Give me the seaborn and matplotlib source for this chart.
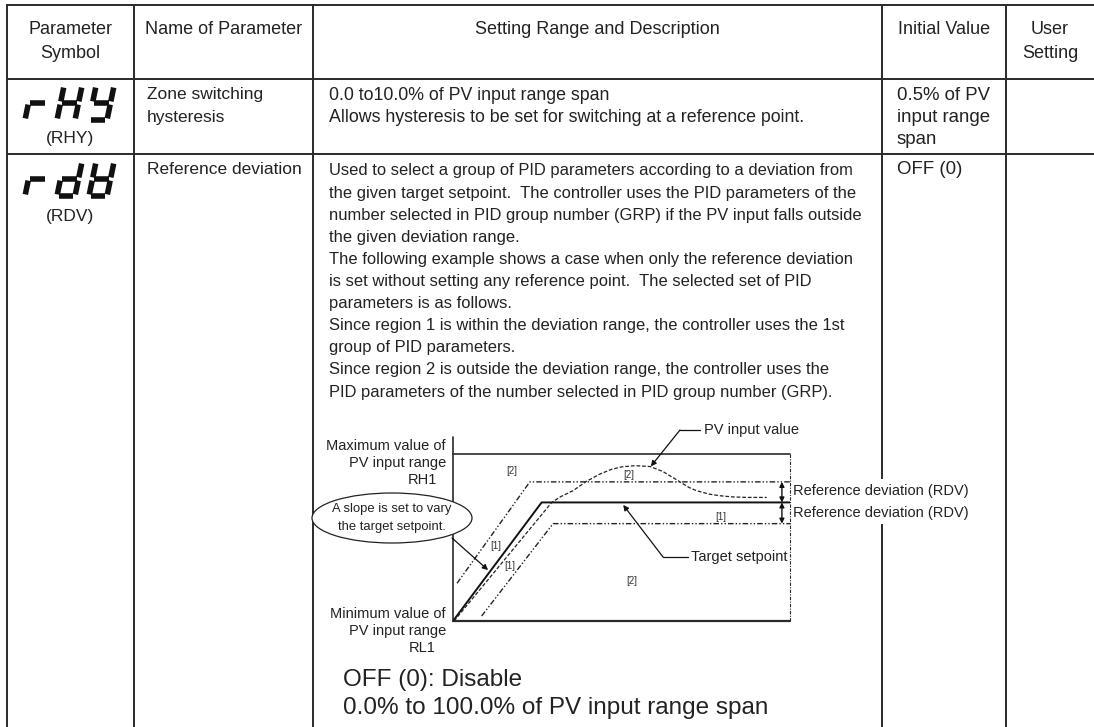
import matplotlib
matplotlib.use("Agg")
import matplotlib.pyplot as plt
import seaborn as sns
from matplotlib.patches import Ellipse, Rectangle

# ============================================================
# DATA
# ============================================================

header_texts = ["Parameter\nSymbol", "Name of Parameter", "Setting Range and Description",
                "Initial Value", "User\nSetting"]

symbols = ["rHY", "rdV"]
symbol_names = ["(RHY)", "(RDV)"]
param_names = [["Zone switching", "hysteresis"], ["Reference deviation"]]
initial_values = [["0.5% of PV", "input range", "span"], ["OFF (0)"]]

row1_desc = ["0.0 to10.0% of PV input range span",
             "Allows hysteresis to be set for switching at a reference point."]
row2_desc = [
    "Used to select a group of PID parameters according to a deviation from",
    "the given target setpoint.  The controller uses the PID parameters of the",
    "number selected in PID group number (GRP) if the PV input falls outside",
    "the given deviation range.",
    "The following example shows a case when only the reference deviation",
    "is set without setting any reference point.  The selected set of PID",
    "parameters is as follows.",
    "Since region 1 is within the deviation range, the controller uses the 1st",
    "group of PID parameters.",
    "Since region 2 is outside the deviation range, the controller uses the",
    "PID parameters of the number selected in PID group number (GRP).",
]
row2_range = ["OFF (0): Disable", "0.0% to 100.0% of PV input range span"]

# diagram series (time 0-100, PV range 0-100)
sp_time = [0, 26.3, 100]
sp_value = [0, 71, 71]
dev_hi_time = [1.2, 22.8, 100]
dev_hi_value = [22.6, 83.3, 83.3]
dev_lo_time = [8.5, 29.7, 100]
dev_lo_value = [3, 58.3, 58.3]
pv_time = [0.3, 29.3, 32, 35.6, 39.5, 43.6, 47, 50, 54, 58.5, 62.3, 66.8, 70, 72.3,
           76, 79.2, 83, 87.2, 93.1]
pv_value = [0, 71, 74.5, 78, 83.5, 88, 90.8, 92.3, 93, 92.5, 89.5, 84, 80, 78,
            76, 75, 74.3, 74, 74]
region_labels = ["[2]", "[2]", "[1]", "[1]", "[1]", "[2]"]
region_time = [17.5, 52.2, 12.8, 16.9, 79.5, 53.1]
region_value = [90, 87.5, 45, 32.7, 62.5, 24]

# seven segment glyph map
seg_map = {"r": "eg", "H": "bcefg", "Y": "bcdfg", "d": "bcdeg", "V": "bcdefg"}

# ============================================================
# FIGURE
# ============================================================

sns.set_theme(style="white")
plt.rcParams["font.family"] = ["Liberation Sans", "DejaVu Sans"]

W, H = 1094, 727
fig = plt.figure(figsize=(W / 100, H / 100), dpi=100)
ax = fig.add_axes([0, 0, 1, 1])
ax.set_xlim(0, W)
ax.set_ylim(H, 0)
ax.axis("off")

ink = "#222222"
lc = "#2a2a2a"

col_x = [7, 134, 313, 882, 1006]
row_y = [5, 79, 154]

# table grid (right border is outside the picture)
for x in col_x:
    ax.plot([x, x], [row_y[0], H], color=lc, lw=1.4, zorder=1)
for y in row_y:
    ax.plot([col_x[0], W], [y, y], color=lc, lw=1.4, zorder=1)

# header
centers = [(col_x[i] + col_x[i + 1]) / 2 for i in range(4)] + [1050]
for cx, t in zip(centers, header_texts):
    for k, ln in enumerate(t.split("\n")):
        ax.text(cx, 30 + 24 * k, ln, ha="center", va="center", fontsize=13, color=ink)


def draw_seg(x0, y0, text, w=18, h=34, pitch=32, slant=7, gap=1.6, lw=4.0):
    for n, ch in enumerate(text):
        bx = x0 + n * pitch

        def pt(fx, fy):
            return bx + fx * w + slant * (1 - fy), y0 + fy * h

        gx, gy = gap / w, gap / h
        segs = {
            "a": (pt(gx, 0), pt(1 - gx, 0)),
            "b": (pt(1, gy), pt(1, 0.5 - gy)),
            "c": (pt(1, 0.5 + gy), pt(1, 1 - gy)),
            "d": (pt(gx, 1), pt(1 - gx, 1)),
            "e": (pt(0, 0.5 + gy), pt(0, 1 - gy)),
            "f": (pt(0, gy), pt(0, 0.5 - gy)),
            "g": (pt(gx, 0.5), pt(1 - gx, 0.5)),
        }
        for s in seg_map[ch]:
            (xa, ya), (xb, yb) = segs[s]
            ax.plot([xa, xb], [ya, yb], color="#111111", lw=lw, solid_capstyle="butt")


sym_top = [86, 162]
sym_label_y = [139, 216]
for i in range(2):
    draw_seg(25, sym_top[i], symbols[i])
    ax.text(70, sym_label_y[i], symbol_names[i], ha="center", va="center", fontsize=12.5, color=ink)

# names
name_y = [95, 170]
for i in range(2):
    for k, ln in enumerate(param_names[i]):
        ax.text(147, name_y[i] + 22.5 * k, ln, ha="left", va="center", fontsize=12.5, color=ink)

# initial values
for i in range(2):
    for k, ln in enumerate(initial_values[i]):
        ax.text(897, name_y[i] + 22.5 * k, ln, ha="left", va="center", fontsize=13.4, color=ink)

# descriptions
for k, ln in enumerate(row1_desc):
    ax.text(329, 95 + 22.5 * k, ln, ha="left", va="center", fontsize=12.8, color=ink)
for k, ln in enumerate(row2_desc):
    ax.text(329, 171 + 22.1 * k, ln, ha="left", va="center", fontsize=11.9, color=ink)
for k, ln in enumerate(row2_range):
    ax.text(343, 680 + 28 * k, ln, ha="left", va="center", fontsize=17.5, color=ink)

# ============================================================
# DIAGRAM
# ============================================================

dl, dr, dt, db = 453, 790, 454, 621
ax_d = fig.add_axes([dl / W, (H - db) / H, (dr - dl) / W, (db - dt) / H])
ax_d.set_xlim(0, 100)
ax_d.set_ylim(0, 100)
ax_d.axis("off")
ax_d.patch.set_alpha(0)

# frame
ax_d.plot([0, 0], [0, 110], color=lc, lw=1.2, clip_on=False)
ax_d.plot([0, 100], [100, 100], color=lc, lw=1.2, clip_on=False)
ax_d.plot([0, 100], [0, 0], color=lc, lw=1.6, clip_on=False)
ax_d.plot([100, 100], [0, 100], color=lc, lw=0.8, linestyle=(0, (3, 1.2, 1, 1.2)), clip_on=False)

sns.lineplot(x=sp_time, y=sp_value, ax=ax_d, sort=False, estimator=None,
             color="#111111", lw=1.4)
sns.lineplot(x=dev_hi_time, y=dev_hi_value, ax=ax_d, sort=False, estimator=None,
             color="#222222", lw=1.0, linestyle=(0, (4, 1.5, 1, 1.5, 1, 1.5)))
sns.lineplot(x=dev_lo_time, y=dev_lo_value, ax=ax_d, sort=False, estimator=None,
             color="#222222", lw=1.0, linestyle=(0, (4, 1.5, 1, 1.5, 1, 1.5)))
sns.lineplot(x=pv_time, y=pv_value, ax=ax_d, sort=False, estimator=None,
             color="#222222", lw=0.9, linestyle=(0, (3, 1.5)))
for t, x, y in zip(region_labels, region_time, region_value):
    ax_d.text(x, y, t, ha="center", va="center", fontsize=7, color="#333333")

# double arrows for deviation
arr = dict(arrowstyle="<|-|>", color="#111111", lw=1.0, mutation_scale=7, shrinkA=0, shrinkB=0)
ax_d.annotate("", xy=(97.6, dev_hi_value[-1]), xytext=(97.6, sp_value[-1]), arrowprops=arr)
ax_d.annotate("", xy=(97.6, sp_value[-1]), xytext=(97.6, dev_lo_value[-1]), arrowprops=arr)

# callouts
one = dict(arrowstyle="-|>", color="#111111", lw=0.9, mutation_scale=8, shrinkA=0, shrinkB=0)
ax_d.annotate("", xy=(58.7, 92.6), xytext=(680, 430), textcoords=ax.transData, arrowprops=one)
ax.plot([680, 700], [430, 430], color="#111111", lw=0.9)
ax.text(704, 430, "PV input value", ha="left", va="center", fontsize=10.5, color=ink)

ax_d.annotate("", xy=(50.5, 69.5), xytext=(663, 557), textcoords=ax.transData, arrowprops=one)
ax.plot([663, 688], [557, 557], color="#111111", lw=0.9)
ax.text(691, 557, "Target setpoint", ha="left", va="center", fontsize=10.5, color=ink)

# white gap in the column line behind the two labels
ax_d.add_patch(Rectangle((792, 479), 176, 45, transform=ax.transData, facecolor="white",
                         edgecolor="none", clip_on=False, zorder=5))
for y in [491, 513]:
    ax_d.text(793, y, "Reference deviation (RDV)", transform=ax.transData, ha="left",
              va="center", fontsize=10.5, color=ink, zorder=6)

# axis labels
for k, ln in enumerate(["Maximum value of", "PV input range"]):
    ax.text(446, 446 + 17 * k, ln, ha="right", va="center", fontsize=10.5, color=ink)
ax.text(422, 480, "RH1", ha="center", va="center", fontsize=10.5, color=ink)
for k, ln in enumerate(["Minimum value of", "PV input range"]):
    ax.text(446, 614 + 17 * k, ln, ha="right", va="center", fontsize=10.5, color=ink)
ax.text(422, 648, "RL1", ha="center", va="center", fontsize=10.5, color=ink)

# ellipse callout
ax_d.add_patch(Ellipse((392, 518), 160, 50, transform=ax.transData, facecolor="white",
                       edgecolor="#222222", lw=0.9, clip_on=False, zorder=5))
ax_d.text(392, 509, "A slope is set to vary", transform=ax.transData, ha="center",
          va="center", fontsize=9.4, color=ink, zorder=6)
ax_d.text(392, 527, "the target setpoint.", transform=ax.transData, ha="center",
          va="center", fontsize=9.4, color=ink, zorder=6)
ax_d.annotate("", xy=(10.4, 30.5), xytext=(452, 538), textcoords=ax.transData, arrowprops=one)

fig.savefig("out.png", dpi=100)
